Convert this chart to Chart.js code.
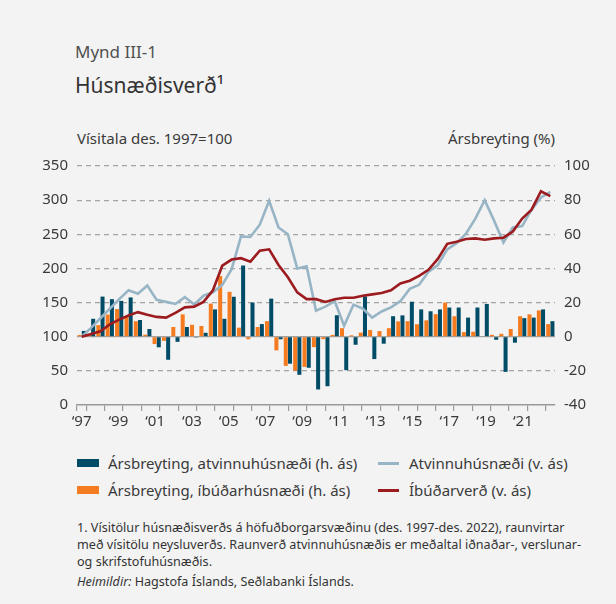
<!DOCTYPE html>
<html>
<head>
<meta charset="utf-8">
<script src="https://cdn.jsdelivr.net/npm/chart.js@4.4.1/dist/chart.umd.min.js"></script>
<style>
  body { margin: 0; background: #f3f3f3; }
  #wrap { position: relative; width: 616px; height: 604px; background: #f3f3f3; font-family: "Noto Sans", sans-serif; color: #3a3a3a; overflow: hidden; }
  .t { position: absolute; white-space: nowrap; }
  #chart { position: absolute; left: 0; top: 148px; }
  .sw { position: absolute; }
</style>
</head>
<body>
<div id="wrap">
  <div class="t" style="left:75px;top:42px;font-size:17px;line-height:20px;color:#505050">Mynd III-1</div>
  <div class="t" style="left:75px;top:73px;font-size:21px;line-height:24px;color:#333">Húsnæðisverð¹</div>
  <div class="t" style="left:77px;top:128px;font-size:15px;line-height:20px">Vísitala des. 1997=100</div>
  <div class="t" style="right:61px;top:128px;font-size:15px;line-height:20px">Ársbreyting (%)</div>

  <canvas id="chart" width="616" height="282"></canvas>

  <div class="sw" style="left:77px;top:459px;width:22px;height:8px;background:#004c66"></div>
  <div class="t" style="left:108px;top:453px;font-size:15px;line-height:20px">Ársbreyting, atvinnuhúsnæði (h. ás)</div>
  <div class="sw" style="left:77px;top:486px;width:22px;height:8px;background:#f47b20"></div>
  <div class="t" style="left:108px;top:480px;font-size:15px;line-height:20px">Ársbreyting, íbúðarhúsnæði (h. ás)</div>
  <div class="sw" style="left:378px;top:462px;width:21px;height:3px;background:#98b5c6"></div>
  <div class="t" style="left:409px;top:453px;font-size:15px;line-height:20px">Atvinnuhúsnæði (v. ás)</div>
  <div class="sw" style="left:378px;top:489px;width:21px;height:3px;background:#9b1b1f"></div>
  <div class="t" style="left:409px;top:480px;font-size:15px;line-height:20px">Íbúðarverð (v. ás)</div>

  <div class="t" style="left:77px;top:519px;font-size:12.6px;line-height:17px;color:#333">1. Vísitölur húsnæðisverðs á höfuðborgarsvæðinu (des. 1997-des. 2022), raunvirtar<br>með vísitölu neysluverðs. Raunverð atvinnuhúsnæðis er meðaltal iðnaðar-, verslunar-<br>og skrifstofuhúsnæðis.</div>
  <div class="t" style="left:77px;top:573px;font-size:12.6px;line-height:17px;color:#333"><i>Heimildir:</i> Hagstofa Íslands, Seðlabanki Íslands.</div>
</div>

<script>
// half-year periods, des. 1997 - des. 2022
const periods = [
  "des.97",
  "jún.98", "des.98", "jún.99", "des.99", "jún.00", "des.00", "jún.01", "des.01",
  "jún.02", "des.02", "jún.03", "des.03", "jún.04", "des.04", "jún.05", "des.05",
  "jún.06", "des.06", "jún.07", "des.07", "jún.08", "des.08", "jún.09", "des.09",
  "jún.10", "des.10", "jún.11", "des.11", "jún.12", "des.12", "jún.13", "des.13",
  "jún.14", "des.14", "jún.15", "des.15", "jún.16", "des.16", "jún.17", "des.17",
  "jún.18", "des.18", "jún.19", "des.19", "jún.20", "des.20", "jún.21", "des.21",
  "jún.22", "des.22"
];

const yearLabels = ["‘97", "‘99", "‘01", "‘03", "‘05", "‘07", "‘09", "‘11", "‘13", "‘15", "‘17", "‘19", "‘21"];

// index, des. 1997 = 100 (left axis)
const atvinnuIndex = [
  100, 113, 127, 141, 155, 168, 163, 175, 154, 151, 148, 158, 147, 160, 165, 176, 199,
  247, 246, 264, 299, 260, 250, 200, 203, 138, 144, 152, 116, 147, 141, 128, 137,
  143, 152, 170, 176, 195, 205, 228, 237, 251, 273, 300, 270, 238, 260, 262, 286,
  304, 312
];
const ibudIndex = [
  100, 104, 108, 118, 125, 131, 136, 132, 129, 128, 135, 143, 144, 151, 168, 204, 213,
  215, 210, 226, 228, 205, 187, 165, 155, 155, 151, 155, 157, 157, 160, 162, 164,
  168, 178, 182, 189, 198, 214, 236, 239, 243, 244, 242, 244, 245, 254, 273, 286,
  313, 306
];

// annual change, % (right axis)
const atvinnuChange = [
  3.4, 10.5, 23.5, 22, 21, 23, 9.8, 4.5, -6.2, -13.5, -3, 5.7, -0.5, 2.3, 16, 10.5, 23.4,
  41.7, 20, 7.4, 22.3, -1.5, -15.8, -22.3, -18.2, -30.9, -29, 12.6, -19.6, -4.7, 23.6, -13.1, -4.1,
  12, 12.5, 20.5, 16, 14.9, 16, 17.1, 17.1, 11.2, 17.1, 19.2, -1.8, -20.6, -3.5, 10.9, 11.2,
  16, 9.1
];
const ibudChange = [
  1, 1.5, 6.8, 13, 16.2, 11.8, 9.1, 1.2, -4.3, -2.4, 5.7, 13.1, 7, 6.3, 19.4, 35.6, 26.3,
  5.3, -1.5, 5.7, 9.1, -8, -17.1, -20, -17.7, -6.1, -1.4, 1.1, 5, 0.8, 2.4, 3.9, 3.3,
  5, 9, 9.1, 7.3, 9.6, 13.2, 20, 12, 2.7, 2.9, 0.3, 1.1, 1.7, 4.5, 12, 13.1,
  15.4, 7.4
];

Chart.defaults.font.family = "'Noto Sans', sans-serif";
Chart.defaults.font.size = 15;
Chart.defaults.color = "#3a3a3a";

const ctx = document.getElementById("chart");

new Chart(ctx, {
  type: "bar",
  data: {
    labels: periods,
    datasets: [
      {
        type: "line",
        label: "Íbúðarverð (v. ás)",
        data: ibudIndex,
        yAxisID: "y",
        borderColor: "#9b1b1f",
        borderWidth: 2.6,
        pointRadius: 0,
        tension: 0,
        order: 0,
      },
      {
        type: "line",
        label: "Atvinnuhúsnæði (v. ás)",
        data: atvinnuIndex,
        yAxisID: "y",
        borderColor: "#98b5c6",
        borderWidth: 2.6,
        pointRadius: 0,
        tension: 0,
        order: 1,
      },
      {
        label: "Ársbreyting, íbúðarhúsnæði (h. ás)",
        data: ibudChange,
        yAxisID: "y1",
        backgroundColor: "#f47b20",
        categoryPercentage: 0.9,
        barPercentage: 0.95,
        order: 2,
      },
      {
        label: "Ársbreyting, atvinnuhúsnæði (h. ás)",
        data: atvinnuChange,
        yAxisID: "y1",
        backgroundColor: "#004c66",
        categoryPercentage: 0.9,
        barPercentage: 0.95,
        order: 2,
      },
    ],
  },
  options: {
    responsive: false,
    animation: false,
    layout: { padding: { top: 12, left: 0, right: 0, bottom: 0 } },
    plugins: { legend: { display: false }, tooltip: { enabled: false } },
    scales: {
      x: { display: false },
      x2: {
        type: "linear",
        axis: "x",
        position: "bottom",
        min: 0,
        max: 51,
        afterFit: (s) => { s.height = 25; },
        ticks: {
          stepSize: 1,
          autoSkip: false,
          maxRotation: 0,
          padding: 2,
          color: "#3a3a3a",
          callback: (v) => (v % 4 === 0 && v <= 48 ? yearLabels[v / 4] : ""),
        },
        grid: {
          drawOnChartArea: false,
          tickLength: 6,
          lineWidth: 1.2,
          color: (c) => (c.tick && (c.tick.value === 0 || c.tick.value % 2 === 1) ? "#9a9a9a" : "rgba(0,0,0,0)"),
        },
        border: { display: true, color: "#9a9a9a", width: 1.6 },
      },
      y: {
        position: "left",
        min: 0,
        max: 350,
        afterFit: (s) => { s.width = 77; },
        ticks: { stepSize: 50, padding: 9 },
        grid: {
          drawTicks: false,
          lineWidth: 1.2,
          color: (c) => (c.tick && c.tick.value === 0 ? "rgba(0,0,0,0)" : "#a3a3a3"),
        },
        border: {
          display: false,
          dash: (c) => (c.tick && c.tick.value === 100 ? [] : [5, 4]),
        },
      },
      y1: {
        position: "right",
        min: -40,
        max: 100,
        afterFit: (s) => { s.width = 61; },
        ticks: { stepSize: 20, padding: 9 },
        grid: { drawOnChartArea: false, drawTicks: false },
        border: { display: false },
      },
    },
  },
});
</script>
</body>
</html>
